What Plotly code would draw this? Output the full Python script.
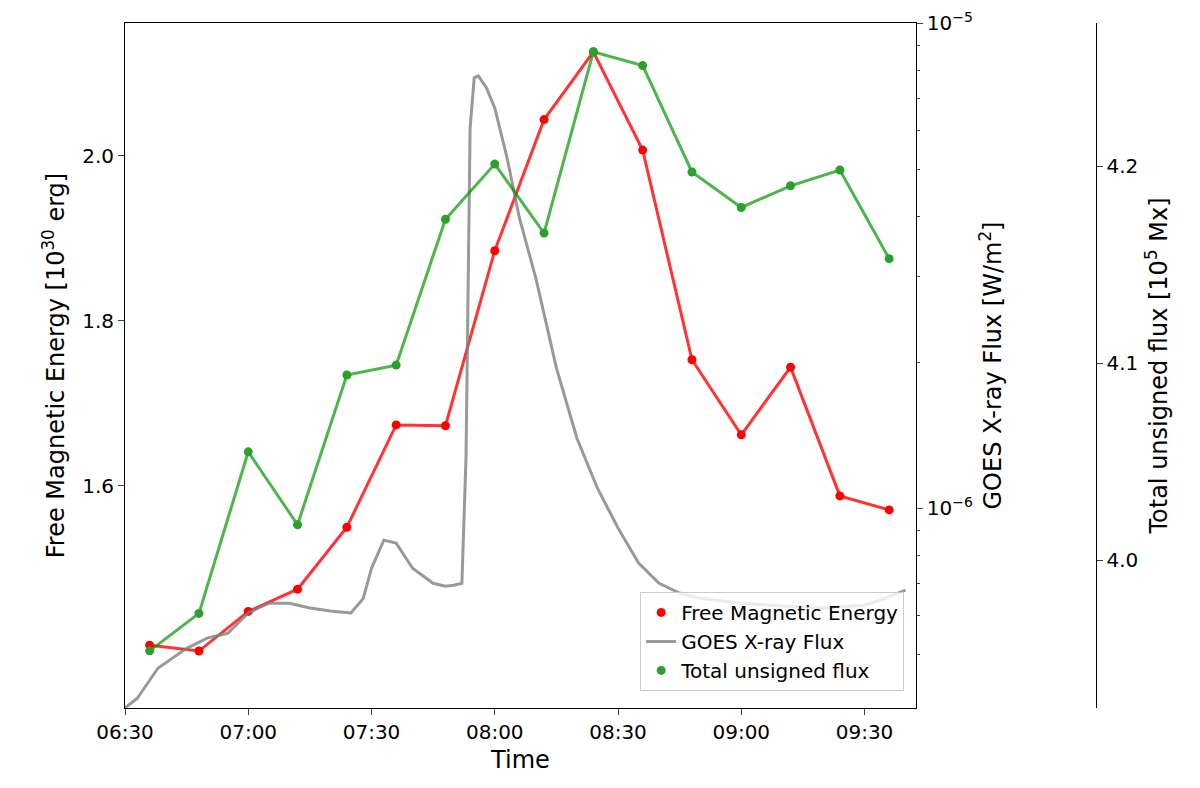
import plotly.graph_objects as go

day = "2020-01-01 "
pt_times = ["06:36","06:48","07:00","07:12","07:24","07:36","07:48","08:00",
            "08:12","08:24","08:36","08:48","09:00","09:12","09:24","09:36"]
free_energy = [1.407,1.400,1.448,1.475,1.550,1.674,1.673,1.885,
               2.044,2.126,2.007,1.753,1.662,1.744,1.588,1.571]
total_flux = [3.954,3.973,4.055,4.018,4.094,4.099,4.173,4.201,
              4.166,4.258,4.251,4.197,4.179,4.190,4.198,4.153]
goes_times = ["06:30","06:33","06:38","06:45","06:50","06:55","07:00","07:05","07:10",
              "07:15","07:20","07:25","07:28","07:30","07:33","07:36","07:40","07:45",
              "07:48","07:50","07:52","07:53","07:54","07:55","07:56","07:58","08:00",
              "08:03","08:06","08:10","08:15","08:20","08:25","08:30","08:35","08:40",
              "08:45","08:50","09:00","09:10","09:20","09:30","09:35","09:40"]
goes_log = [-6.412,-6.392,-6.330,-6.289,-6.268,-6.258,-6.216,-6.196,-6.196,
            -6.206,-6.212,-6.216,-6.186,-6.124,-6.066,-6.072,-6.124,-6.155,
            -6.161,-6.159,-6.155,-5.897,-5.216,-5.113,-5.109,-5.134,-5.175,
            -5.278,-5.402,-5.526,-5.711,-5.856,-5.959,-6.041,-6.113,-6.155,
            -6.175,-6.186,-6.196,-6.202,-6.206,-6.200,-6.186,-6.169]
goes_flux = [10**e for e in goes_log]
tick_labels = ["06:30","07:00","07:30","08:00","08:30","09:00","09:30"]

tx = [day + t for t in pt_times]
gx = [day + t for t in goes_times]

fig = go.Figure()
fig.add_trace(go.Scatter(x=tx, y=free_energy, mode="lines+markers", showlegend=False,
                         line=dict(color="rgba(255,0,0,0.8)", width=3),
                         marker=dict(color="red", size=9)))
fig.add_trace(go.Scatter(x=gx, y=goes_flux, mode="lines", showlegend=False, yaxis="y2",
                         line=dict(color="rgba(128,128,128,0.8)", width=3)))
fig.add_trace(go.Scatter(x=tx, y=total_flux, mode="lines+markers", showlegend=False,
                         yaxis="y3", line=dict(color="rgba(0,150,0,0.7)", width=3),
                         marker=dict(color="#2ca02c", size=9)))
# legend entries (matplotlib style: markers only for scatter series)
fig.add_trace(go.Scatter(x=[None], y=[None], mode="markers", name="Free Magnetic Energy",
                         marker=dict(color="red", size=9)))
fig.add_trace(go.Scatter(x=[None], y=[None], mode="lines", name="GOES X-ray Flux",
                         line=dict(color="rgba(128,128,128,0.8)", width=3)))
fig.add_trace(go.Scatter(x=[None], y=[None], mode="markers", name="Total unsigned flux",
                         marker=dict(color="#2ca02c", size=9)))

F = dict(family="DejaVu Sans", size=20, color="black")
fig.update_layout(
    width=1200, height=788, plot_bgcolor="white", paper_bgcolor="white",
    margin=dict(l=117, r=20, t=15, b=88), font=F, showlegend=True,
    xaxis=dict(domain=[0, 0.744], type="date", automargin=False,
               range=[day+"06:30", day+"09:42:30"],
               tickvals=[day+t for t in tick_labels], ticktext=tick_labels,
               ticks="outside", ticklen=6, showline=True, linecolor="black", mirror=True,
               showgrid=False, zeroline=False, title=dict(text="Time", standoff=8)),
    yaxis=dict(range=[1.331, 2.161], tickvals=[1.6, 1.8, 2.0], ticktext=["1.6","1.8","2.0"],
               automargin=False,
               ticks="outside", ticklen=6, showline=True, linecolor="black", showgrid=False,
               zeroline=False, title=dict(text="Free Magnetic Energy [10<sup>30</sup> erg]", standoff=10)),
    yaxis2=dict(type="log", range=[-6.412, -5], overlaying="y", side="right", anchor="x",
                automargin=False,
                tickvals=[1e-6, 1e-5], ticktext=["10<sup>−6</sup>", "10<sup>−5</sup>"],
                ticks="outside", ticklen=6, showline=True, linecolor="black", showgrid=False,
                minor=dict(ticks="outside", ticklen=3,
                           tickvals=[5e-7,6e-7,7e-7,8e-7,9e-7,2e-6,3e-6,4e-6,5e-6,6e-6,7e-6,8e-6,9e-6]),
                title=dict(text="GOES X-ray Flux [W/m<sup>2</sup>]", standoff=12)),
    yaxis3=dict(range=[3.925, 4.2726], overlaying="y", side="right", anchor="free", position=0.913,
                automargin=False,
                tickvals=[4.0, 4.1, 4.2], ticktext=["4.0","4.1","4.2"],
                ticks="outside", ticklen=6, showline=True, linecolor="black", showgrid=False,
                zeroline=False, title=dict(text="Total unsigned flux [10<sup>5</sup> Mx]", standoff=12)),
    legend=dict(x=0.733, y=0.025, xanchor="right", yanchor="bottom", bgcolor="rgba(255,255,255,0.8)",
                bordercolor="#cccccc", borderwidth=1, font=dict(family="DejaVu Sans", size=20)),
)
fig.write_html("out.html")
